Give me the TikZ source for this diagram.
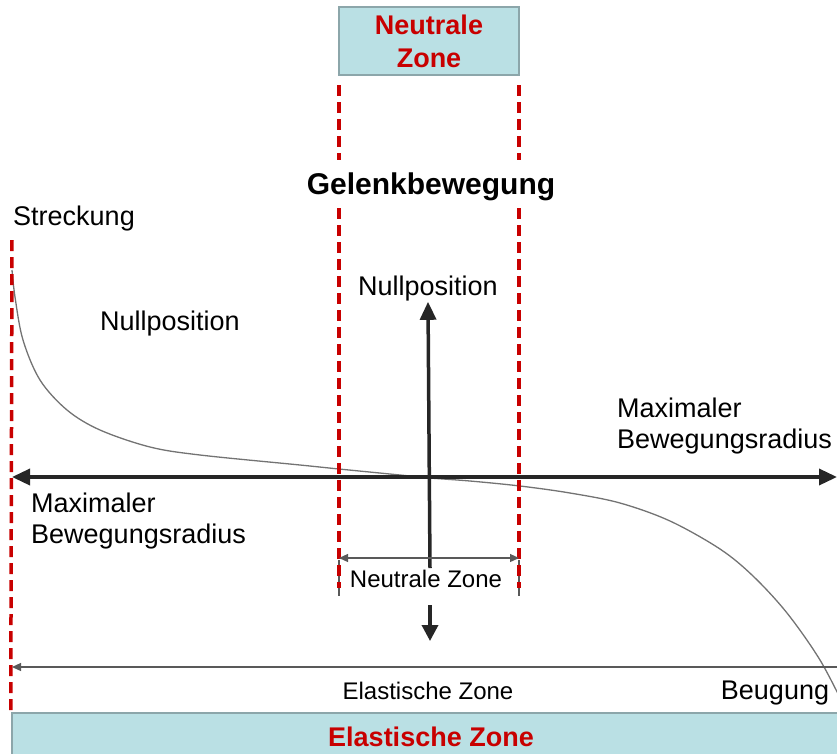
\documentclass[tikz,border=0pt]{standalone}
\usepackage{fontspec}
\setmainfont{Liberation Sans}
\usepackage{tikz}
\usetikzlibrary{arrows.meta}
\definecolor{zonered}{RGB}{200,0,0}
\definecolor{zonefill}{RGB}{186,224,228}
\definecolor{zoneedge}{RGB}{140,166,170}
\tikzset{
  zonebox/.style={draw=zoneedge, line width=2.5pt, fill=zonefill, text=zonered, align=center, font=\bfseries\fontsize{27}{33}\selectfont, inner sep=0pt},
  lbl/.style={font=\fontsize{27}{31}\selectfont, inner sep=0pt},
  smalllbl/.style={font=\fontsize{24}{28}\selectfont, inner sep=0pt},
  reddash/.style={draw=zonered, line width=3.5pt, dash pattern=on 11pt off 6pt},
  axis/.style={line width=3.5pt, draw=black!85},
  dimline/.style={line width=1.2pt, draw=black!65},
  curve/.style={line width=1.3pt, draw=black!55}
}
\begin{document}
\begin{tikzpicture}[x=1pt, y=-1pt]
            \path[use as bounding box] (0,0) rectangle (837,753);

            % Boxes
            \node[zonebox, minimum width=180pt, minimum height=68pt] (nzbox) at (429,41) {Neutrale\\Zone};
            \node[zonebox, minimum width=838pt, minimum height=48pt] (ezbox) at (431,737) {Elastische Zone};

            % Labels
            \node[lbl] (streck) at (74,219) {Streckung};
            \node[lbl] (null1) at (170,324) {Nullposition};
            \node[lbl] (null2) at (428,289) {Nullposition};
            \node[font=\bfseries\fontsize{30}{35}\selectfont, inner sep=0pt] (gelenk) at (431,187) {Gelenkbewegung};
            \node[lbl, align=left, anchor=west] (maxR) at (617,426) {Maximaler\\Bewegungsradius};
            \node[lbl, align=left, anchor=west] (maxL) at (31,521) {Maximaler\\Bewegungsradius};
            \node[smalllbl] (nzlbl) at (426,579) {Neutrale Zone};
            \node[smalllbl] (ezlbl) at (428,691) {Elastische Zone};
            \node[lbl] (beug) at (775,693) {Beugung};

            % Coordinates
            \coordinate (axL) at (12,477);
            \coordinate (axR) at (837,477);
            \coordinate (vBot) at (430,568);
            \coordinate (dTop) at (430,605);
            \coordinate (dBot) at (430,641);
            \coordinate (nzL) at (339,558);
            \coordinate (nzR) at (519,558);
            \coordinate (ezL) at (12,667);
            \coordinate (ezR) at (837,667);

            % Curve
            \draw[curve] plot[smooth, tension=0.55] coordinates {(12,270) (15,297) (23,340) (40,380) (67,410) (100,430) (150,447) (200,455) (300,465) (339,469) (400,475) (430,478) (470,481) (520,486) (570,493) (620,503) (670,521) (720,549) (753,576) (787,613) (820,660) (845,708)};

            % Zone borders
            \draw[dimline] (339,560) -- (339,596);
            \draw[dimline] (519,560) -- (519,596);
            \draw[reddash] (339,85) -- (339,160);
            \draw[reddash] (519,85) -- (519,160);
            \draw[reddash] (339,208) -- (339,588);
            \draw[reddash] (519,208) -- (519,588);
            \draw[reddash] (12,240) -- (ezbox.north west);

            % Arrows
            \draw[axis, {Triangle[length=18pt,width=16pt]}-{Triangle[length=18pt,width=16pt]}] (axL) -- (axR);
            \draw[axis, -{Triangle[length=18pt,width=16pt]}] (vBot) -- (null2.south);
            \draw[axis, -{Triangle[length=16pt,width=16pt]}] (dTop) -- (dBot);
            \draw[dimline, {Triangle[length=9pt,width=8pt]}-{Triangle[length=9pt,width=8pt]}] (nzL) -- (nzR);
            \draw[dimline, {Triangle[length=9pt,width=8pt]}-] (ezL) -- (ezR);
        \end{tikzpicture}
\end{document}
